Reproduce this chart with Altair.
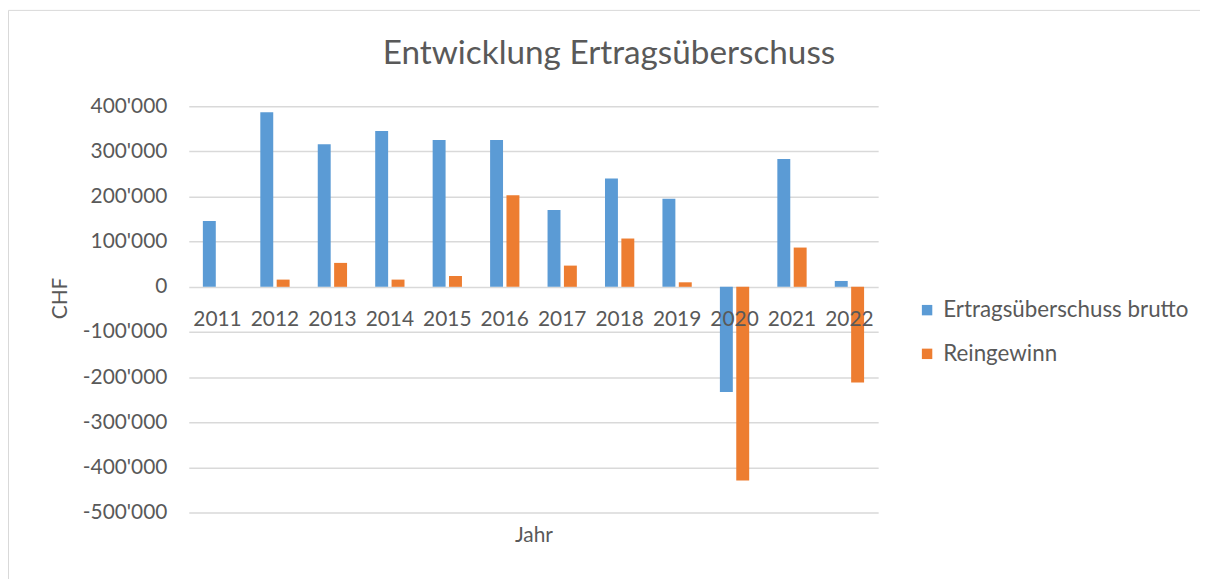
import altair as alt
import pandas as pd

years = ["2011", "2012", "2013", "2014", "2015", "2016", "2017", "2018", "2019", "2020", "2021", "2022"]
brutto = [146000, 387000, 316000, 345000, 325000, 325000, 170000, 240000, 195000, -233000, 283000, 13000]
reingewinn = [0, 16000, 53000, 16000, 24000, 203000, 47000, 107000, 10000, -429000, 87000, -212000]
series_names = ["Ertragsüberschuss brutto", "Reingewinn"]
series_colors = ["#5B9BD5", "#ED7D31"]
y_ticks = [-500000, -400000, -300000, -200000, -100000, 0, 100000, 200000, 300000, 400000]
chart_title = "Entwicklung Ertragsüberschuss"

rows = []
for i, yr in enumerate(years):
    rows.append({"Year": yr, "Serie": series_names[0], "Wert": brutto[i]})
    rows.append({"Year": yr, "Serie": series_names[1], "Wert": reingewinn[i]})
df = pd.DataFrame(rows)
df_years = pd.DataFrame({"Year": years})

FONT = "Lato"
TXT = "#595959"

x_enc = alt.X(
    "Year:N",
    sort=years,
    scale=alt.Scale(paddingInner=0.49, paddingOuter=0.245),
    axis=alt.Axis(
        title="Jahr", labels=False, ticks=False, domain=False, grid=False,
        titleFont=FONT, titleFontSize=21, titleFontWeight="normal", titleColor=TXT,
        titleBaseline="alphabetic", titleY=29,
    ),
)

bars = alt.Chart(df).mark_bar().encode(
    x=x_enc,
    xOffset=alt.XOffset("Serie:N", sort=series_names, scale=alt.Scale(paddingInner=0.21)),
    y=alt.Y(
        "Wert:Q",
        scale=alt.Scale(domain=[-500000, 400000], nice=False, zero=False),
        axis=alt.Axis(
            title="CHF", values=y_ticks, ticks=False, domain=False,
            gridColor="#D9D9D9", gridWidth=1.5,
            labelFont=FONT, labelFontSize=21, labelColor=TXT, labelPadding=22,
            labelExpr="(datum.value < 0 ? '-' : '') + replace(format(abs(datum.value), ','), ',', \"'\")",
            titleFont=FONT, titleFontSize=21, titleFontWeight="normal", titleColor=TXT,
            titleBaseline="alphabetic", titleX=-123, titleY=193, titleAngle=-90,
        ),
    ),
    color=alt.Color(
        "Serie:N",
        sort=series_names,
        scale=alt.Scale(domain=series_names, range=series_colors),
        legend=alt.Legend(
            title=None, orient="none", legendX=732, legendY=194,
            symbolType="square", symbolSize=110, symbolStrokeWidth=0,
            labelFont=FONT, labelFontSize=22.5, labelColor=TXT, labelOffset=5,
            labelLimit=400, rowPadding=21,
        ),
    ),
)

year_labels = alt.Chart(df_years).mark_text(
    font=FONT, fontSize=21, color=TXT, baseline="alphabetic", dy=39
).encode(
    x=alt.X("Year:N", sort=years),
    y=alt.datum(0),
    text="Year:N",
)

title_mark = alt.Chart(alt.Data(values=[{}])).mark_text(
    font=FONT, fontSize=33.5, color=TXT, align="center", baseline="alphabetic"
).encode(
    x=alt.value(423), y=alt.value(-43), text=alt.value(chart_title)
)

border = alt.Chart(alt.Data(values=[{}])).mark_rect(
    fillOpacity=0, stroke="#D9D9D9", strokeWidth=1
).encode(
    x=alt.value(-181.5), x2=alt.value(1030), y=alt.value(-96.5), y2=alt.value(490)
)

chart = alt.layer(border, title_mark, bars, year_labels).properties(
    width=694,
    height=409,
    autosize=alt.AutoSizeParams(type="none"),
    padding={"left": 182, "top": 97, "right": 324, "bottom": 65},
).configure_view(stroke=None)

chart.save("out.html", embed_options={"renderer": "svg", "actions": False})
